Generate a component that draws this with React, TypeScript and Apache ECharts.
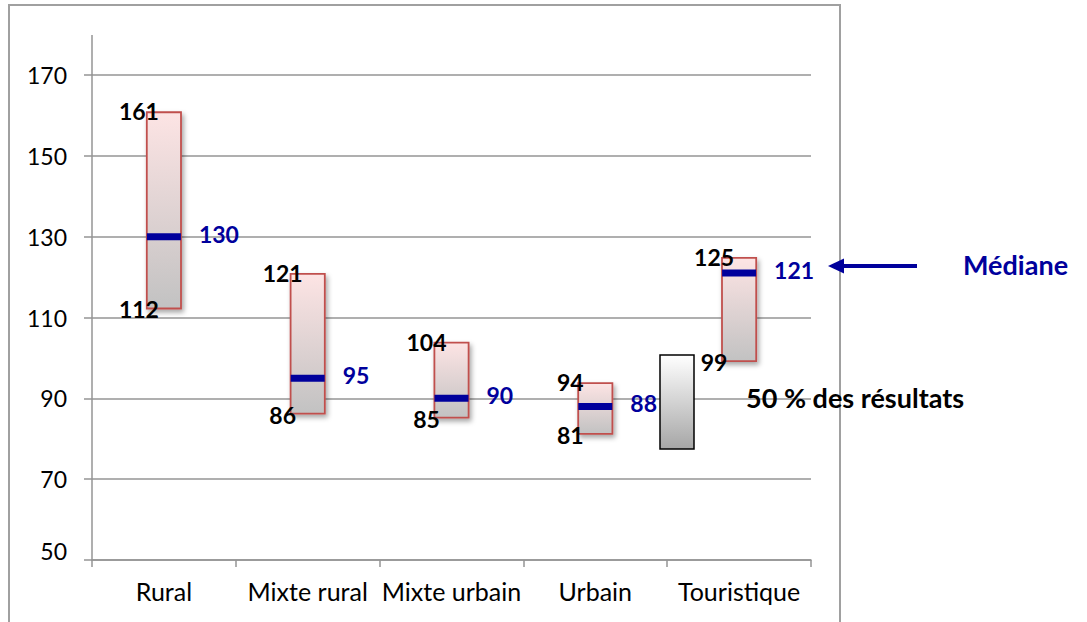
import React, { useEffect, useRef } from "react";
import * as echarts from "echarts";

const categories = ["Rural", "Mixte rural", "Mixte urbain", "Urbain", "Touristique"];
const lows = [112, 86, 85, 81, 99];
const highs = [161, 121, 104, 94, 125];
const medians = [130, 95, 90, 88, 121];
const yTickValues = [50, 70, 90, 110, 130, 150, 170];

const FONT = "Lato, 'Open Sans', sans-serif";
const GRID = "#959595";
const BLUE = "#00009c";

export default function App() {
  const ref = useRef<HTMLDivElement>(null);
  useEffect(() => {
    if (!ref.current) return;
    const chart = echarts.init(ref.current, null, { renderer: "svg" });
    const ranges = highs.map((h, i) => h - lows[i]);
    const boxGradient = new echarts.graphic.LinearGradient(0, 0, 0, 1, [
      { offset: 0, color: "#fde4e4" },
      { offset: 1, color: "#c2c2c2" },
    ]);
    const legendGradient = new echarts.graphic.LinearGradient(0, 0, 0, 1, [
      { offset: 0, color: "#ffffff" },
      { offset: 1, color: "#a6a6a6" },
    ]);
    const pointLabel = {
      show: true,
      position: "inside",
      offset: [-25, 0],
      color: "#000",
      fontWeight: "bold",
      fontSize: 23,
      fontFamily: FONT,
    };
    chart.setOption({
      animation: false,
      textStyle: { fontFamily: FONT },
      grid: { left: 92, right: 276, top: 75, bottom: 62, containLabel: false },
      xAxis: {
        type: "category",
        data: categories,
        boundaryGap: true,
        axisLine: { lineStyle: { color: GRID, width: 1.5 } },
        axisTick: { show: true, length: 7, lineStyle: { color: GRID, width: 1.5 } },
        axisLabel: { color: "#000", fontSize: 25, margin: 18, interval: 0, fontFamily: FONT },
        splitLine: { show: false },
      },
      yAxis: {
        type: "value",
        min: yTickValues[0],
        max: yTickValues[yTickValues.length - 1],
        interval: yTickValues[1] - yTickValues[0],
        axisLine: { show: true, lineStyle: { color: GRID, width: 1.5 } },
        axisTick: { show: true, length: 8, lineStyle: { color: GRID, width: 1.5 } },
        axisLabel: {
          color: "#000",
          fontSize: 23,
          margin: 25,
          fontFamily: FONT,
          formatter: (v: number) => (v === yTickValues[0] ? `{first|${v}}` : `${v}`),
          rich: {
            first: { fontSize: 23, color: "#000", fontFamily: FONT, padding: [0, 0, 18, 0] },
          },
        },
        splitLine: { show: true, lineStyle: { color: GRID, width: 1.5 } },
      },
      series: [
        {
          type: "bar",
          stack: "box",
          data: lows,
          barWidth: 36,
          itemStyle: { color: "transparent" },
          silent: true,
        },
        {
          type: "bar",
          stack: "box",
          data: ranges,
          barWidth: 36,
          itemStyle: {
            color: boxGradient,
            borderColor: "#c0504d",
            borderWidth: 1.8,
            shadowBlur: 5,
            shadowColor: "rgba(0,0,0,0.35)",
            shadowOffsetX: 2,
            shadowOffsetY: 3,
          },
        },
        {
          type: "scatter",
          data: medians,
          symbol: "rect",
          symbolSize: [34, 7],
          itemStyle: { color: BLUE, opacity: 1 },
          z: 5,
          label: {
            show: true,
            position: "right",
            distance: 18,
            offset: [0, -3],
            color: BLUE,
            fontWeight: "bold",
            fontSize: 23,
            fontFamily: FONT,
          },
        },
        {
          type: "scatter",
          data: highs,
          symbolSize: 1,
          itemStyle: { color: "transparent", opacity: 1 },
          z: 6,
          label: pointLabel,
        },
        {
          type: "scatter",
          data: lows,
          symbolSize: 1,
          itemStyle: { color: "transparent", opacity: 1 },
          z: 6,
          label: pointLabel,
        },
      ],
      graphic: [
        {
          type: "polyline",
          shape: { points: [[9, 622], [9, 5], [840, 5], [840, 622]] },
          style: { stroke: "#a0a0a0", lineWidth: 2, fill: null },
          silent: true,
        },
        {
          type: "line",
          shape: { x1: 92, y1: 35, x2: 92, y2: 75 },
          style: { stroke: GRID, lineWidth: 1.5 },
          silent: true,
        },
        {
          type: "rect",
          shape: { x: 660, y: 355, width: 34, height: 94 },
          style: { fill: legendGradient, stroke: "#000", lineWidth: 1.5 },
          z: 100,
        },
        {
          type: "text",
          x: 746,
          y: 397,
          style: {
            text: "50 % des résultats",
            fill: "#000",
            font: `bold 27px ${FONT}`,
            verticalAlign: "middle",
          },
          z: 100,
        },
        {
          type: "line",
          shape: { x1: 917, y1: 266, x2: 840, y2: 266 },
          style: { stroke: BLUE, lineWidth: 4 },
          z: 100,
        },
        {
          type: "polygon",
          shape: { points: [[828, 266], [844, 258.5], [844, 273.5]] },
          style: { fill: BLUE },
          z: 100,
        },
        {
          type: "text",
          x: 963,
          y: 264,
          style: {
            text: "Médiane",
            fill: BLUE,
            font: `bold 27px ${FONT}`,
            verticalAlign: "middle",
          },
          z: 100,
        },
      ],
    });
    return () => chart.dispose();
  }, []);
  return (
    <div
      ref={ref}
      style={{ position: "absolute", left: 0, top: 0, width: 1087, height: 622 }}
    />
  );
}
